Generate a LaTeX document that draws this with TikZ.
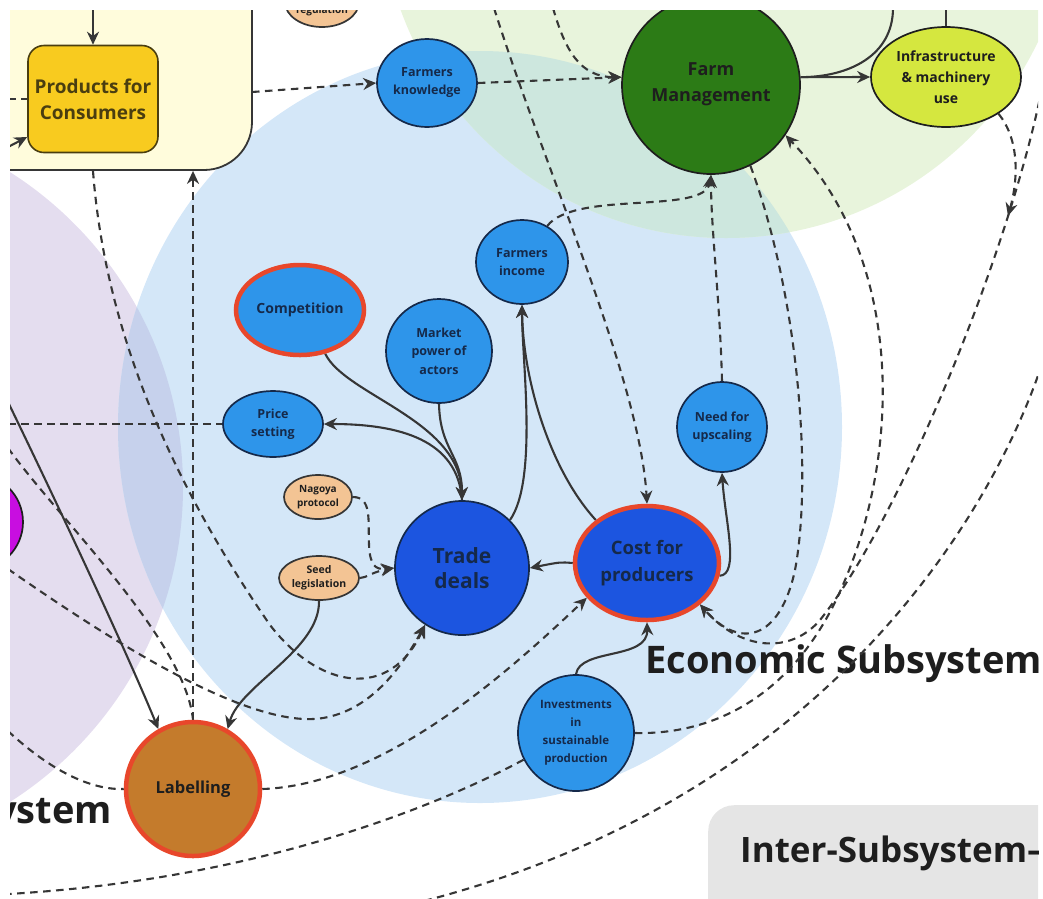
\documentclass[tikz,border=0pt]{standalone}
\usepackage{fontspec}
\setmainfont{Open Sans}
\usetikzlibrary{shapes.geometric,arrows.meta,calc}

\definecolor{bgpurple}{HTML}{E4DDEF}
\definecolor{bgblue}{HTML}{D4E7F8}
\definecolor{bgpb}{HTML}{C6D1EC}
\definecolor{bggreen}{HTML}{E8F4DC}
\definecolor{bgteal}{HTML}{CDE7DE}
\definecolor{bgyellow}{HTML}{FFFCDC}
\definecolor{bggrey}{HTML}{E5E5E5}
\definecolor{edge}{HTML}{363636}
\definecolor{navy}{HTML}{15294A}
\definecolor{midblue}{HTML}{2E95EA}
\definecolor{deepblue}{HTML}{1C55E0}
\definecolor{farmgreen}{HTML}{2C7B16}
\definecolor{lime}{HTML}{D5E73F}
\definecolor{peach}{HTML}{F3C494}
\definecolor{gold}{HTML}{F8CB1F}
\definecolor{ochre}{HTML}{C47B2C}
\definecolor{alert}{HTML}{E8472B}
\definecolor{magentanode}{HTML}{C80EE0}
\definecolor{ink}{HTML}{1E1E1E}
\definecolor{olive}{HTML}{4A3E10}

\newcommand{\nf}[2]{\fontsize{#1}{#2}\selectfont\bfseries}

\pgfdeclarelayer{zones}
\pgfdeclarelayer{wires}
\pgfsetlayers{zones,wires,main}

\tikzset{
  nd/.style={ellipse, draw=navy, line width=1.7pt, inner sep=0pt, align=center, text=navy},
  mid/.style={nd, fill=midblue},
  deep/.style={nd, fill=deepblue},
  flag/.style={draw=alert, line width=4.5pt},
  soil/.style={nd, fill=peach, draw=ink!90, text=ink},
  dims/.style 2 args={minimum width=#1, minimum height=#2},
  link/.style={draw=edge, line width=2.1pt},
  dlink/.style={link, dash pattern=on 7.5pt off 5.5pt},
  big/.style={font=\nf{38}{44}, text=ink, inner sep=0pt},
}

\begin{document}
\begin{tikzpicture}[x=1pt, y=-1pt, >={Stealth[length=13pt,width=12pt]}]
\useasboundingbox (0,0) rectangle (1043,898);

% ---------- subsystem zones ----------
\begin{pgfonlayer}{zones}
\begin{scope}
  \clip (10,10) rectangle (1038,898);
  \fill[bgpurple] (-190,487) circle[radius=373pt];
  \fill[bgblue] (480,427) ellipse[x radius=362pt, y radius=376pt];
  \fill[bggreen] (726,-108) circle[radius=346pt];
  \begin{scope}
    \clip (480,427) ellipse[x radius=362pt, y radius=376pt];
    \fill[bgteal] (726,-108) circle[radius=346pt];
    \fill[bgpb] (-190,487) circle[radius=373pt];
  \end{scope}
  \node[draw=edge, line width=1.8pt, fill=bgyellow, rounded corners=48pt,
        minimum width=312pt, minimum height=230pt, inner sep=0pt] (ybox) at (96,55) {};
  \node[fill=bggrey, rounded corners=26pt, minimum width=400pt, minimum height=160pt,
        inner sep=0pt, anchor=north west] (gbox) at (708,805) {};
  \node[big, anchor=base west] (econ) at (645,673) {Economic Subsystem};
  \node[big, anchor=base east] (soc) at (112,823) {ystem};
  \node[font=\nf{35}{40}, text=ink, inner sep=0pt, anchor=base west] (inter) at (740,862) {Inter-Subsystem–};
\end{scope}
\end{pgfonlayer}

% ---------- factors ----------
\begin{scope}
  \clip (10,10) rectangle (1038,898);
  \node[draw=olive, fill=gold, rounded corners=16pt, line width=1.6pt, minimum width=130pt,
        minimum height=107pt, align=center, font=\nf{19}{26}, text=olive] (pfc) at (93,99) {Products for\\Consumers};
  \node[soil, dims={74pt}{50pt}] (reg) at (322,2) {};
  \node[font=\nf{10}{12}, text=ink, anchor=base] (regtext) at (322,13) {regulation};
  \node[mid, dims={100pt}{88pt}, font=\nf{12.5}{18}] (fk) at (427,83) {Farmers\\knowledge};
  \node[nd, fill=farmgreen, draw=ink, dims={178pt}{178pt}, font=\nf{18}{26}, text=ink] (fm) at (711,85) {\raisebox{5pt}{Farm}\\\raisebox{5pt}{Management}};
  \node[nd, fill=lime, draw=ink, dims={150pt}{100pt}, font=\nf{14}{21}, text=ink] (infra) at (946,77) {Infrastructure\\\& machinery\\use};
  \node[mid, dims={92pt}{84pt}, font=\nf{12.5}{18}] (fi) at (522,262) {Farmers\\income};
  \node[mid, flag, dims={128pt}{90pt}, font=\nf{14}{18}] (comp) at (300,310) {Competition};
  \node[mid, dims={106pt}{104pt}, font=\nf{12.5}{18.5}] (mpa) at (439,351) {Market\\power of\\actors};
  \node[mid, dims={100pt}{66pt}, font=\nf{12.5}{18}] (ps) at (273,424) {Price\\setting};
  \node[soil, dims={68pt}{44pt}, font=\nf{10}{14}] (nag) at (318,497) {Nagoya\\protocol};
  \node[soil, dims={80pt}{44pt}, font=\nf{10.5}{14}] (seed) at (319,578) {Seed\\legislation};
  \node[deep, dims={134pt}{134pt}, font=\nf{21}{25}] (td) at (462,568) {Trade\\deals};
  \node[deep, flag, dims={144pt}{114pt}, font=\nf{18.5}{27}] (cfp) at (647,563) {Cost for\\producers};
  \node[mid, dims={90pt}{90pt}, font=\nf{12.5}{18}] (nfu) at (722,427) {Need for\\upscaling};
  \node[mid, dims={116pt}{116pt}, font=\nf{11.5}{18}] (inv) at (576,733) {Investments\\in\\sustainable\\production};
  \node[nd, fill=ochre, flag, dims={134pt}{134pt}, font=\nf{16.5}{20}, text=ink] (lab) at (193,789) {Labelling};
  \node[nd, fill=magentanode, draw=ink, dims={96pt}{96pt}] (mag) at (-25,522) {};
\end{scope}

% ---------- free ends at the frame ----------
\coordinate (t1) at (93,8);
\coordinate (t2) at (8,147);
\coordinate (t3) at (8,99);
\coordinate (t4) at (893,8);
\coordinate (t5) at (946,8);
\coordinate (t6) at (494,8);
\coordinate (t7) at (553,8);
\coordinate (r1) at (1042,88);
\coordinate (r2) at (1042,364);
\coordinate (ia) at (1008,216);
\coordinate (b1) at (8,894);
\coordinate (b2) at (420,902);
\coordinate (l1) at (8,448);
\coordinate (l2) at (8,569);
\coordinate (l3) at (8,731);
\coordinate (l4) at (8,424);
\coordinate (l5) at (8,402);
\coordinate (yb1) at (252,92);
\coordinate (yb2) at (pfc.south |- ybox.south);

% ---------- connectors ----------
\begin{pgfonlayer}{wires}
\begin{scope}
  \clip (10,10) rectangle (1038,898);
  % solid links
  \draw[link,->] (t1) -- (pfc.north);
  \draw[link,->] (t2) -- (pfc.-150);
  \draw[link,->] (fm.5) -- (infra.west);
  \draw[link] (t4) .. controls (893,55) and (850,77) .. (fm.5);
  \draw[link] (t5) -- (infra.north);
  \draw[link,->] (comp.-60) .. controls (345,395) and (460,420) .. (td.north);
  \draw[link,->] (mpa.south) .. controls (440,450) and (462,455) .. (td.north);
  \draw[link,->] (td.north) .. controls (458,440) and (400,424) .. (ps.east);
  \draw[link,->] (td.45) .. controls (538,480) and (522,360) .. (fi.south);
  \draw[link,->] (cfp.140) .. controls (550,470) and (523,380) .. (fi.south);
  \draw[link,->] (cfp.west) .. controls (560,562) .. (td.east);
  \draw[link,->] (cfp.-10) .. controls (740,575) and (725,520) .. (nfu.south);
  \draw[link,->] (inv.north) .. controls (580,648) and (648,660) .. (cfp.south);
  \draw[link,->] (seed.south) .. controls (320,650) and (240,685) .. (lab.60);
  \draw[link,->] (l5) .. controls (70,530) and (130,660) .. (lab.120);
  % dashed links
  \draw[dlink] (t3) -- (pfc.west);
  \draw[dlink,->] (yb1) -- (fk.west);
  \draw[dlink,->] (fk.east) -- (fm.175);
  \draw[dlink,->] (t7) .. controls (565,50) and (580,77) .. (fm.175);
  \draw[dlink,->] (t6) .. controls (545,170) and (640,380) .. (cfp.north);
  \draw[dlink,->] (fi.55) .. controls (575,190) and (705,215) .. (fm.south);
  \draw[dlink,->] (nfu.north) .. controls (720,300) and (711,230) .. (fm.south);
  \draw[dlink,->] (fm.-64) .. controls (800,300) and (812,480) .. (795,570)
                  .. controls (780,640) and (740,650) .. (cfp.-38);
  \draw[dlink,->] (r1) .. controls (1010,250) and (900,520) .. (820,620)
                  .. controls (790,655) and (740,650) .. (cfp.-38);
  \draw[dlink,->] (infra.-35) .. controls (1020,140) and (1018,180) .. (ia);
  \draw[dlink,->] (inv.east) .. controls (720,735) and (800,690) .. (845,580)
                  .. controls (900,450) and (905,260) .. (fm.-34);
  \draw[dlink] (r2) .. controls (990,520) and (820,800) .. (b2);
  \draw[dlink] (inv.-153) .. controls (430,810) and (250,880) .. (b1);
  \draw[dlink,->] (lab.east) .. controls (380,785) and (500,680) .. (cfp.-150);
  \draw[dlink,->] (lab.north) -- (lab.north |- ybox.south);
  \draw[dlink,->] (yb2) .. controls (105,330) and (170,480) .. (270,625)
                  .. controls (320,690) and (390,700) .. (td.-123);
  \draw[dlink,->] (l2) .. controls (110,640) and (250,730) .. (323,718)
                  .. controls (370,710) and (400,670) .. (td.-123);
  \draw[dlink] (l1) .. controls (60,520) and (185,640) .. (lab.north);
  \draw[dlink] (l3) .. controls (50,770) and (90,790) .. (lab.west);
  \draw[dlink] (l4) -- (ps.west);
  \draw[dlink,->] (nag.east) .. controls (372,497) and (368,520) .. (369,545)
                  .. controls (370,565) and (375,570) .. (td.west);
  \draw[dlink,->] (seed.east) .. controls (366,578) and (372,572) .. (td.west);
\end{scope}
\end{pgfonlayer}
\end{tikzpicture}
\end{document}
